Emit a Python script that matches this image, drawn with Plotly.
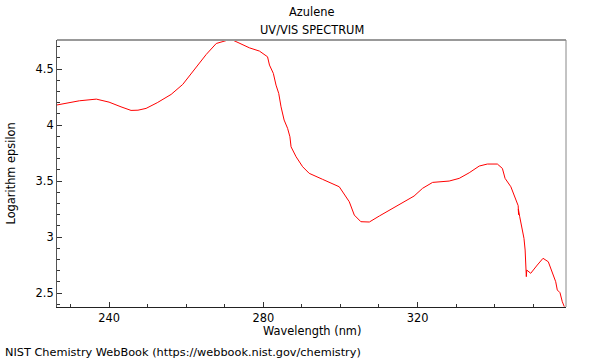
import plotly.graph_objects as go

wavelength = [226.4, 229.5, 232.3, 236.7, 240.0, 243.1, 245.7, 247.5, 249.6, 252.5,
              256.1, 259.1, 262.1, 265.2,
              267.8, 270.8, 272.1, 273.8, 276.4, 279.0, 281.1, 281.6, 282.6, 283.3,
              284.0, 284.6, 285.4, 286.3, 286.9, 287.2, 288.5, 290.2, 291.9, 295.4,
              299.7, 302.3, 303.6, 305.3, 307.5, 310.1, 314.4, 319.1, 321.3, 323.9,
              328.2, 330.8, 333.4, 336.0, 338.1, 340.7, 342.0, 342.7, 344.2, 345.3,
              346.1, 346.2, 346.15, 346.5, 347.0, 347.6, 347.9, 347.95, 348.06, 348.21,
              348.32, 349.35, 351.06, 352.54, 353.91, 354.95, 355.83, 356.24, 356.94, 357.54,
              358.06]
log_eps = [4.179, 4.200, 4.217, 4.232, 4.205, 4.163, 4.131, 4.133, 4.149, 4.200,
           4.274, 4.363, 4.491, 4.631,
           4.729, 4.759, 4.759, 4.729, 4.690, 4.661, 4.610, 4.536, 4.462, 4.357,
           4.283, 4.163, 4.045, 3.971, 3.896, 3.806, 3.717, 3.628, 3.569, 3.515,
           3.449, 3.315, 3.196, 3.137, 3.134, 3.188, 3.271, 3.366, 3.435, 3.488,
           3.500, 3.524, 3.574, 3.634, 3.652, 3.652, 3.613, 3.524, 3.449, 3.360,
           3.280, 3.200, 3.250, 3.181, 3.092, 2.988, 2.884, 2.830, 2.795, 2.646,
           2.705, 2.676, 2.750, 2.810, 2.779, 2.676, 2.601, 2.527, 2.503, 2.422,
           2.378]

x_tickvals = [240, 280, 320]
x_ticktext = ["240", "280", "320"]
y_tickvals = [2.5, 3, 3.5, 4, 4.5]
y_ticktext = ["2.5", "3", "3.5", "4", "4.5"]

FONT = "DejaVu Sans"
FS = 11.4

fig = go.Figure()
fig.add_trace(go.Scatter(x=wavelength, y=log_eps, mode="lines",
                         line=dict(color="#ff0000", width=1), hoverinfo="skip"))

fig.update_layout(
    width=600, height=360,
    margin=dict(l=57, r=34, t=40, b=53),
    paper_bgcolor="white", plot_bgcolor="white",
    showlegend=False,
    font=dict(family=FONT, size=FS, color="black"),
    xaxis=dict(range=[226.5, 358.5], tickvals=x_tickvals, ticktext=x_ticktext,
               ticks="inside", ticklen=5, tickcolor="#333", showgrid=False, zeroline=False,
               showline=True, linecolor="#222", linewidth=1,
               minor=dict(dtick=10, ticks="inside", ticklen=3, tickcolor="#333", showgrid=False),
               tickfont=dict(size=FS)),
    yaxis=dict(range=[2.375, 4.76], tickvals=y_tickvals, ticktext=y_ticktext,
               ticks="inside", ticklen=5, tickcolor="#333", showgrid=False, zeroline=False,
               showline=True, linecolor="#555", linewidth=1,
               minor=dict(dtick=0.1, ticks="inside", ticklen=3, tickcolor="#333", showgrid=False),
               tickfont=dict(size=FS)),
    shapes=[
        dict(type="line", xref="paper", yref="paper", x0=0, x1=1, y0=1, y1=1,
             line=dict(color="#999", width=2)),
        dict(type="line", xref="paper", yref="paper", x0=1, x1=1, y0=0, y1=1,
             line=dict(color="#888", width=1)),
    ],
    annotations=[
        dict(text="Azulene", xref="paper", yref="paper", x=0.5, y=1, yshift=28,
             showarrow=False, xanchor="center", yanchor="middle", font=dict(size=FS)),
        dict(text="UV/VIS SPECTRUM", xref="paper", yref="paper", x=0.5, y=1, yshift=10,
             showarrow=False, xanchor="center", yanchor="middle", font=dict(size=FS)),
        dict(text="Wavelength (nm)", xref="paper", yref="paper", x=0.5, y=0, yshift=-24,
             showarrow=False, xanchor="center", yanchor="middle", font=dict(size=FS)),
        dict(text="Logarithm epsilon", xref="paper", yref="paper", x=0, y=0.5, xshift=-47,
             textangle=-90, showarrow=False, xanchor="center", yanchor="middle",
             font=dict(size=FS)),
        dict(text="NIST Chemistry WebBook (https://webbook.nist.gov/chemistry)",
             xref="paper", yref="paper", x=0, y=0, xshift=-54, yshift=-45,
             showarrow=False, xanchor="left", yanchor="middle", font=dict(size=11.3)),
    ],
)

fig.write_html("out.html", config={"displayModeBar": False},
               post_script="document.body.style.margin='0';")
